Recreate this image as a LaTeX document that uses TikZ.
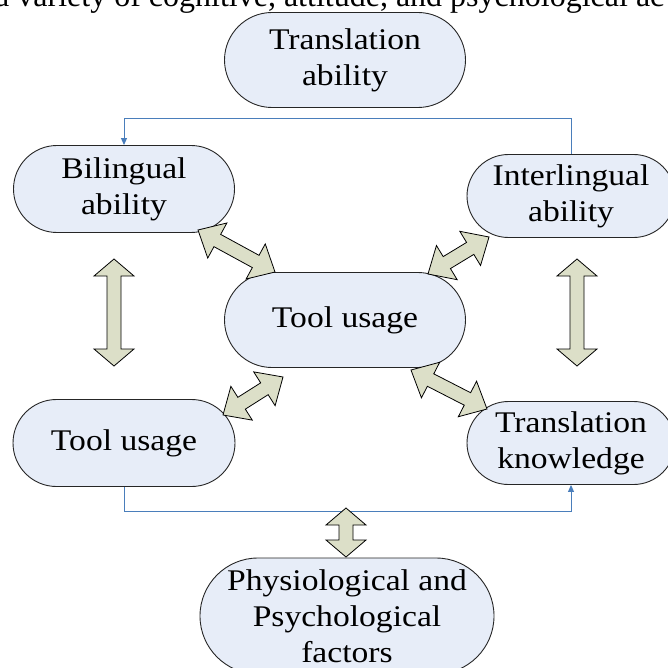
\documentclass[tikz,border=0pt]{standalone}
\usepackage{fontspec}
\setmainfont{Liberation Serif}[FakeStretch=1.12]
\newfontfamily\pagefont{Liberation Serif}
\usetikzlibrary{shapes.misc,calc,arrows.meta}
\definecolor{ovalfill}{HTML}{E7EDF8}
\definecolor{arrowfill}{HTML}{DCDFC8}
\definecolor{linkblue}{HTML}{4A7EBB}
\tikzstyle{oval}=[rounded rectangle, draw=black!85, fill=ovalfill, line width=0.9pt, inner sep=0pt, align=center, font=\fontsize{30}{36}\selectfont]
\tikzstyle{link}=[draw=linkblue, line width=1pt, -{Triangle[length=7pt,width=6pt]}]
\tikzstyle{blockarrow}=[draw=black, fill=arrowfill, line width=0.8pt, line join=miter]
\newcommand{\shaftwd}{7pt}
\newcommand{\headwd}{20pt}
% double block arrow between two named coordinates
\newcommand{\dblarrow}[3][20pt]{%
  \draw[blockarrow] (#2)
    -- ($(#2)!#1!(#3)!\headwd!90:(#3)$)
    -- ($(#2)!#1!(#3)!\shaftwd!90:(#3)$)
    -- ($(#3)!#1!(#2)!\shaftwd!-90:(#2)$)
    -- ($(#3)!#1!(#2)!\headwd!-90:(#2)$)
    -- (#3)
    -- ($(#3)!#1!(#2)!\headwd!90:(#2)$)
    -- ($(#3)!#1!(#2)!\shaftwd!90:(#2)$)
    -- ($(#2)!#1!(#3)!\shaftwd!-90:(#3)$)
    -- ($(#2)!#1!(#3)!\headwd!-90:(#3)$)
    -- cycle;}

\begin{document}
\begin{tikzpicture}[x=1pt, y=-1pt]
    \useasboundingbox (0,0) rectangle (667,668);

    % running text of the page, cut off
    \node[anchor=base west, inner sep=0pt, font=\pagefont\fontsize{32}{38}\selectfont] (context) at (-5,7) {a variety of cognitive, attitude, and psychological ac};

    % first row
    \node[oval, minimum width=241, minimum height=95] (title) at (345,60) {Translation\\ability};

    % second row
    \node[oval, minimum width=221, minimum height=87] (bil) at (124,189) {Bilingual\\ability};
    \node[oval, minimum width=208, minimum height=83] (inter) at (571,196) {Interlingual\\ability};

    % middle
    \node[oval, minimum width=241, minimum height=95] (toolmid) at (345,320) {Tool usage};

    % third row
    \node[oval, minimum width=222, minimum height=87] (tool) at (124,443) {Tool usage};
    \node[oval, minimum width=208, minimum height=83] (know) at (571,443) {Translation\\knowledge};

    % bottom
    \node[oval, minimum width=294, minimum height=116] (factors) at (347,616) {Physiological and\\Psychological\\factors};

    % blue links
    \coordinate (topbar) at (0,119);
    \coordinate (botbar) at (0,511);
    \draw[link] (inter.north) -- (inter.north |- topbar) -| (bil.north);
    \draw[link] (tool.south) -- (tool.south |- botbar) -| (know.south);

    % ends of the block arrows
    \coordinate (bilA) at (198,230);
    \coordinate (midA) at (275,272);
    \coordinate (interA) at (489,237);
    \coordinate (midB) at (428,274);
    \coordinate (midC) at (283,377);
    \coordinate (toolA) at (223,415);
    \coordinate (midD) at (411,370);
    \coordinate (knowA) at (487,409);
    \coordinate (leftT) at (114,259);
    \coordinate (leftB) at (114,366);
    \coordinate (rightT) at (577,259);
    \coordinate (rightB) at (577,366);
    \coordinate (botT) at (346,508);
    \coordinate (botB) at (346,557);

    % Connect the nodes
    \dblarrow[22pt]{bilA}{midA}
    \dblarrow[22pt]{interA}{midB}
    \dblarrow[22pt]{midC}{toolA}
    \dblarrow[22pt]{midD}{knowA}
    \dblarrow[17pt]{leftT}{leftB}
    \dblarrow[17pt]{rightT}{rightB}
    \dblarrow[17pt]{botT}{botB}
\end{tikzpicture}
\end{document}
